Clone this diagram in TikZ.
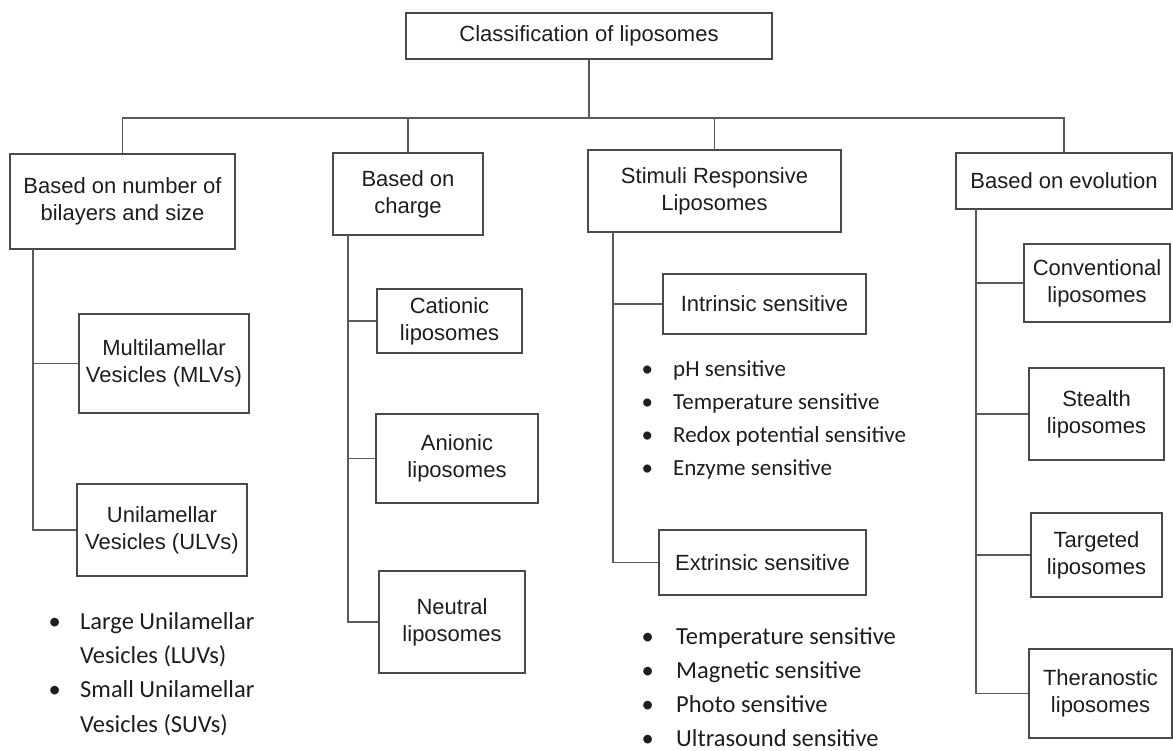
\documentclass[tikz,border=0pt]{standalone}
\usepackage{fontspec}
\setmainfont{Liberation Sans}
\newfontfamily\bulletfont{Carlito}
\definecolor{boxc}{HTML}{4A4A4A}
\definecolor{linec}{HTML}{5A5A5A}
\definecolor{txt}{HTML}{1E1E1E}
\begin{document}
\begin{tikzpicture}[x=1pt,y=-1pt,
  box/.style={draw=boxc, line width=1.8pt, fill=white, text=txt, align=center,
    inner sep=2pt, font=\fontsize{22}{27}\selectfont},
  conn/.style={draw=linec, line width=1.5pt},
  blist/.style={anchor=north west, inner sep=0pt, text=txt}]
\useasboundingbox[fill=white] (0,0) rectangle (1173,751);

% top level
\node[box, minimum width=366, minimum height=46] (root) at (589,36) {Classification of liposomes};
\node[box, minimum width=225, minimum height=95] (b1) at (122.5,201.5) {Based on number of\\bilayers and size};
\node[box, minimum width=150, minimum height=82] (b2) at (408,194) {Based on\\charge};
\node[box, minimum width=253, minimum height=82] (b3) at (714.5,191) {Stimuli Responsive\\Liposomes};
\node[box, minimum width=216, minimum height=56] (b4) at (1064,181) {Based on evolution};

% column 1
\node[box, minimum width=170, minimum height=99] (mlv) at (164,363.5) {Multilamellar\\Vesicles (MLVs)};
\node[box, minimum width=170, minimum height=92] (ulv) at (162,530) {Unilamellar\\Vesicles (ULVs)};

% column 2
\node[box, minimum width=145, minimum height=64] (cat) at (449.5,321) {Cationic\\liposomes};
\node[box, minimum width=162, minimum height=89] (ani) at (457,458.5) {Anionic\\liposomes};
\node[box, minimum width=146, minimum height=102] (neu) at (452,622) {Neutral\\liposomes};

% column 3
\node[box, minimum width=203, minimum height=60] (intr) at (764.5,304) {Intrinsic sensitive};
\node[box, minimum width=207, minimum height=65] (extr) at (762.5,562.5) {Extrinsic sensitive};

% column 4
\node[box, minimum width=146, minimum height=78] (conv) at (1097,283) {Conventional\\liposomes};
\node[box, minimum width=135, minimum height=92] (stea) at (1096.5,414) {Stealth\\liposomes};
\node[box, minimum width=131, minimum height=84] (targ) at (1096.5,555) {Targeted\\liposomes};
\node[box, minimum width=143, minimum height=89] (ther) at (1100.5,693.5) {Theranostic\\liposomes};

% bullet lists
\node[blist, font=\bulletfont\fontsize{24.5}{34.3}\selectfont] (ulvlist) at (48.5,605) {%
\begin{tabular}{@{}p{31.5pt}@{}l@{}}
\textbullet & Large Unilamellar\\
 & Vesicles (LUVs)\\
\textbullet & Small Unilamellar\\
 & Vesicles (SUVs)
\end{tabular}};
\node[blist, font=\bulletfont\fontsize{23}{33}\selectfont] (intlist) at (641.5,352.9) {%
\begin{tabular}{@{}p{31.5pt}@{}l@{}}
\textbullet & pH sensitive\\
\textbullet & Temperature sensitive\\
\textbullet & Redox potential sensitive\\
\textbullet & Enzyme sensitive
\end{tabular}};
\node[blist, font=\bulletfont\fontsize{24.5}{34}\selectfont] (extlist) at (641.5,620.2) {%
\begin{tabular}{@{}p{34.5pt}@{}l@{}}
\textbullet & Temperature sensitive\\
\textbullet & Magnetic sensitive\\
\textbullet & Photo sensitive\\
\textbullet & Ultrasound sensitive
\end{tabular}};

% connectors: main bus
\coordinate (bus) at (589,118);
\draw[conn] (root.south) -- (bus);
\draw[conn] (b1.north) |- (bus) -| (b4.north);
\draw[conn] (b2.north) -- (b2.north |- bus);
\draw[conn] (b3.north) -- (b3.north |- bus);
\draw[conn, line width=2.6pt] (b2.north |- bus) -- (b3.north |- bus);

% column stems
\coordinate (s1) at (33,249);
\draw[conn] (s1) |- (ulv.west);
\draw[conn] (s1 |- mlv.west) -- (mlv.west);

\coordinate (s2) at (348,235);
\draw[conn] (s2) |- (neu.west);
\draw[conn] (s2 |- cat.west) -- (cat.west);
\draw[conn] (s2 |- ani.west) -- (ani.west);

\coordinate (s3) at (613,232);
\draw[conn] (s3) |- (extr.west);
\draw[conn] (s3 |- intr.west) -- (intr.west);

\coordinate (s4) at (976,209);
\draw[conn] (s4) |- (ther.west);
\draw[conn] (s4 |- conv.west) -- (conv.west);
\draw[conn] (s4 |- stea.west) -- (stea.west);
\draw[conn] (s4 |- targ.west) -- (targ.west);
\end{tikzpicture}
\end{document}
